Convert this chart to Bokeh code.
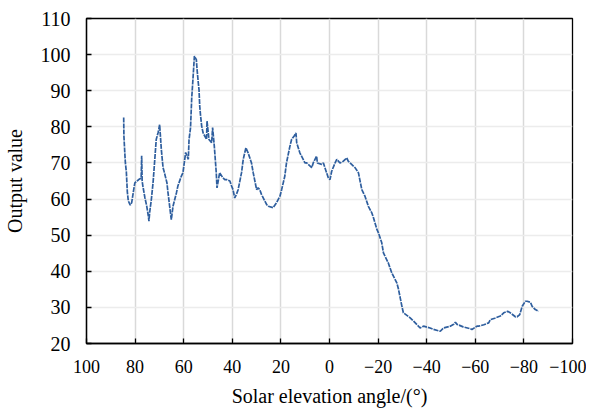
from bokeh.plotting import figure
from bokeh.models import Range1d, FixedTicker
from bokeh.embed import file_html
from bokeh.resources import INLINE

# Solar elevation angle (deg) and output value
angle = [84.7, 84.6, 84.2, 84.0, 83.6, 83.2, 82.8, 82.0, 81.4, 80.6, 80.1, 79.2, 78.5, 77.5,
         77.3, 77.1, 76.8, 76.0, 75.2, 74.6, 74.3, 74.0, 73.3, 72.6, 71.8, 71.3, 70.5, 69.9,
         69.2, 68.5, 68.2, 66.9, 66.5, 65.6, 65.1, 64.4, 63.0, 62.4, 61.0, 60.3, 59.2, 58.1,
         57.8, 57.2, 56.7, 56.2, 55.6, 54.8, 54.5, 54.0, 53.7, 53.4, 53.1, 52.6, 52.0, 50.6,
         50.4, 49.6, 48.5, 48.1, 47.4, 46.6, 46.3, 45.7, 45.2, 44.0, 43.1, 42.4, 41.0, 40.3,
         39.7, 39.0, 38.3, 37.6, 36.2, 35.5, 34.4, 33.5, 32.1, 31.4, 30.0, 29.4, 28.7, 28.0,
         25.9, 25.2, 23.2, 21.8, 20.4, 19.7, 18.4, 17.7, 16.3, 15.6, 14.6, 13.8, 13.5, 12.2,
         11.5, 10.1, 9.4, 7.3, 6.7, 5.3, 5.0, 3.2, 2.5, 1.2, 0.5, -0.2, -0.9, -2.3, -3.0,
         -4.3, -5.7, -7.1, -7.7, -9.1, -10.5, -11.9, -13.3, -14.6, -16.0, -17.4, -18.1, -19.5,
         -20.1, -21.5, -22.2, -24.2, -25.6, -27.7, -28.4, -29.8, -30.4, -33.2, -34.6, -37.3,
         -38.7, -41.4, -42.8, -45.6, -46.9, -49.7, -51.1, -51.8, -52.5, -55.0, -57.9, -58.6,
         -60.7, -61.4, -63.5, -65.5, -66.2, -68.0, -70.3, -71.7, -73.3, -74.4, -76.5, -77.2,
         -78.3, -79.3, -80.6, -81.3, -82.7, -83.4, -84.7, -86.1]
output = [82.6, 77.4, 72.3, 70.0, 67.5, 62.0, 59.5, 58.3, 59.0, 62.5, 64.5, 65.0, 65.4, 65.8,
          72.0, 65.0, 63.6, 60.5, 58.0, 55.5, 53.9, 56.3, 60.0, 64.6, 71.9, 76.5, 78.5, 80.6,
          73.7, 68.7, 68.0, 64.5, 62.0, 57.0, 54.3, 58.0, 61.7, 63.6, 66.3, 67.3, 72.9, 71.0,
          76.5, 79.7, 88.0, 93.1, 99.6, 98.6, 95.9, 92.2, 90.3, 85.7, 83.4, 80.2, 78.3, 76.5,
          81.6, 76.5, 75.6, 79.8, 74.6, 67.3, 63.1, 65.4, 67.3, 66.0, 65.4, 65.4, 65.0, 63.6,
          62.6, 60.3, 61.3, 62.6, 67.3, 71.0, 74.2, 72.8, 70.0, 67.3, 62.6, 63.1, 62.6, 61.3,
          58.5, 58.0, 57.6, 59.0, 60.8, 62.6, 66.3, 70.0, 74.6, 76.5, 77.4, 78.3, 75.6, 72.8,
          71.9, 70.0, 70.0, 68.7, 70.0, 71.9, 70.0, 69.6, 70.0, 67.3, 65.9, 65.4, 67.7, 70.0,
          71.0, 70.0, 70.5, 71.4, 70.5, 69.6, 68.7, 67.3, 62.6, 60.8, 58.0, 56.2, 54.8, 51.6,
          50.7, 47.9, 45.1, 42.3, 39.6, 36.8, 35.0, 30.3, 28.5, 27.1, 26.2, 24.3, 24.8, 24.3,
          23.9, 23.4, 24.3, 24.8, 25.3, 25.9, 25.3, 24.6, 24.1, 23.9, 24.8, 24.8, 25.2, 25.7,
          26.6, 27.0, 27.6, 28.5, 28.9, 28.5, 27.4, 27.4, 28.0, 30.3, 31.7, 31.7, 31.4, 30.3,
          29.4, 28.9]

# tick positions (Bokeh's default formatter prints negatives with a true minus sign)
x_ticks = [100, 80, 60, 40, 20, 0, -20, -40, -60, -80, -100]
y_ticks = [20, 30, 40, 50, 60, 70, 80, 90, 100, 110]

p = figure(frame_width=486, frame_height=325, output_backend="svg", toolbar_location=None,
           x_range=Range1d(100, -100), y_range=Range1d(20, 110),
           min_border_left=79, min_border_right=14, min_border_top=18, min_border_bottom=56)

p.line(angle, output, line_color="#2e5e9e", line_width=1.7, line_dash="5 1")

p.outline_line_color = "black"
p.outline_line_width = 1.3

p.xaxis.ticker = FixedTicker(ticks=x_ticks)
p.yaxis.ticker = FixedTicker(ticks=y_ticks)

xa = p.xaxis[0]
ya = p.yaxis[0]
for ax in (xa, ya):
    ax.axis_line_color = "black"
    ax.axis_line_width = 1.3
    ax.major_tick_in = 5
    ax.major_tick_out = 0
    ax.major_tick_line_color = "black"
    ax.major_tick_line_width = 1.3
    ax.minor_tick_line_color = None
    ax.major_label_text_color = "black"
    ax.axis_label_text_color = "black"
    ax.major_label_text_font = "Liberation Serif"
    ax.axis_label_text_font = "Liberation Serif"
    ax.axis_label_text_font_style = "normal"
    ax.axis_label_text_font_size = "20px"

xa.axis_label = "Solar elevation angle/(\u00b0)"
ya.axis_label = "Output value"
xa.major_label_text_font_size = "18px"
ya.major_label_text_font_size = "20px"
xa.major_label_standoff = 16
ya.major_label_standoff = 16
xa.axis_label_standoff = 9
ya.axis_label_standoff = 12

p.xgrid.grid_line_color = "#d9d9d9"
p.xgrid.grid_line_width = 1.5
p.ygrid.grid_line_color = "#ececec"
p.ygrid.grid_line_width = 1.5

p.background_fill_color = "white"
p.border_fill_color = "white"

open("out.html", "w").write(file_html(p, INLINE))
